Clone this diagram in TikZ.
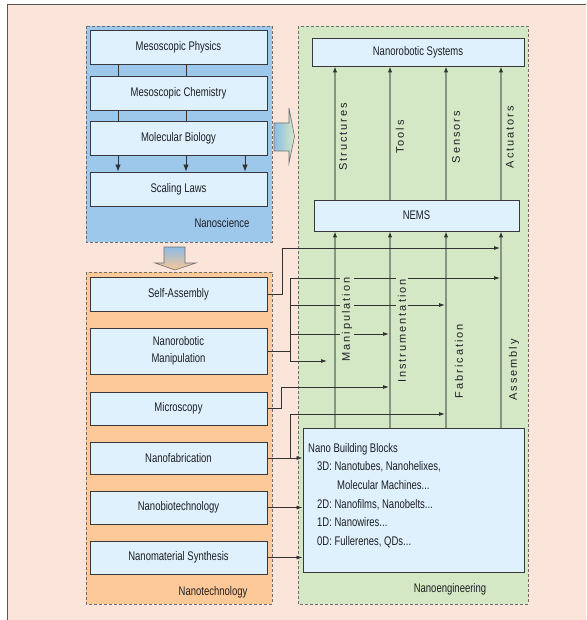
\documentclass[tikz,border=0pt]{standalone}
\usepackage{fontspec}
\setmainfont{Liberation Sans}
\newfontfamily\nf[FakeStretch=0.76]{Liberation Sans}
\newfontfamily\lf[LetterSpace=18]{Liberation Sans}
\usetikzlibrary{arrows.meta,calc}
\definecolor{bgpink}{RGB}{251,228,218}
\definecolor{scifill}{RGB}{157,200,235}
\definecolor{techfill}{RGB}{253,201,152}
\definecolor{engfill}{RGB}{212,232,198}
\definecolor{boxfill}{RGB}{222,241,253}
\definecolor{boxline}{RGB}{55,55,60}
\definecolor{panelline}{RGB}{110,110,110}
\definecolor{connc}{RGB}{50,50,50}
\definecolor{glinec}{RGB}{135,150,130}
\definecolor{framec}{RGB}{85,85,85}
\definecolor{arrblue}{RGB}{140,188,228}
\definecolor{arrgreen}{RGB}{212,232,200}
\definecolor{arrorange}{RGB}{250,198,150}
\definecolor{txt}{RGB}{30,30,35}
\tikzset{
  box/.style={draw=boxline, fill=boxfill, line width=0.9pt, minimum width=177pt, text=txt,
    font=\nf\fontsize{12.5}{17.5}\selectfont, align=center, inner sep=0pt},
  panel/.style={draw=panelline, dash pattern=on 3pt off 2pt, line width=0.8pt},
  conn/.style={draw=connc, line width=0.8pt},
  tip/.style={-{Latex[length=6pt,width=4pt]}},
  gline/.style={draw=glinec, line width=1.6pt, -{Latex[length=6pt,width=4.5pt,color=connc]}},
  vlab/.style={rotate=90, font=\lf\fontsize{11}{13}\selectfont, inner sep=1.5pt, text=txt},
  plab/.style={font=\nf\fontsize{12.5}{14}\selectfont, inner sep=0pt, text=txt},
}
\begin{document}
\begin{tikzpicture}[x=1pt,y=-1pt]
\useasboundingbox (0,0) rectangle (586,620);
% outer frame
\fill[bgpink] (7,4) rectangle (586,620);
\draw[framec, line width=0.9pt] (7,620) -- (7,4) -- (586,4);
% panels
\draw[panel, fill=scifill] (86,26) rectangle (272,242);
\draw[panel, fill=techfill] (86,272) rectangle (272,604);
\draw[panel, fill=engfill] (298,26) rectangle (528,604);
\node[plab] (lsci) at (222,223) {Nanoscience};
\node[plab] (ltech) at (213,592) {Nanotechnology};
\node[plab] (leng) at (450,589) {Nanoengineering};
% block arrows
\shade[left color=arrblue, right color=arrgreen, draw=panelline, line width=0.6pt]
  (274,123) -- (289,123) -- (289,108) -- (294.5,136.5) -- (289,163) -- (289,151) -- (274,151) -- cycle;
\shade[top color=arrblue, bottom color=arrorange, draw=panelline, line width=0.6pt]
  (164,247) -- (185,247) -- (185,263) -- (196,263) -- (175,270) -- (155,263) -- (164,263) -- cycle;
% nanoscience boxes
\node[box, minimum height=34pt] (phys) at (178.5,47) {Mesoscopic Physics};
\node[box, minimum height=34pt] (chem) at (178.5,93) {Mesoscopic Chemistry};
\node[box, minimum height=34pt] (bio) at (178.5,138) {Molecular Biology};
\node[box, minimum height=34pt] (scale) at (178.5,189) {Scaling Laws};
\coordinate (xa) at (118,0);
\coordinate (xb) at (186,0);
\coordinate (xc) at (245,0);
\draw[conn] (phys.south -| xa) -- (chem.north -| xa);
\draw[conn] (phys.south -| xb) -- (chem.north -| xb);
\draw[conn] (chem.south -| xa) -- (bio.north -| xa);
\draw[conn] (chem.south -| xb) -- (bio.north -| xb);
\draw[conn, -{Latex[length=7pt,width=5.5pt]}] (bio.south -| xa) -- (scale.north -| xa);
\draw[conn, -{Latex[length=7pt,width=5.5pt]}] (bio.south -| xb) -- (scale.north -| xb);
\draw[conn, -{Latex[length=7pt,width=5.5pt]}] (bio.south -| xc) -- (scale.north -| xc);
% nanotechnology boxes
\node[box, minimum height=34pt] (self) at (178.5,294) {Self-Assembly};
\node[box, minimum height=46pt] (manip) at (178.5,351) {Nanorobotic\\Manipulation};
\node[box, minimum height=33pt] (micro) at (178.5,408.5) {Microscopy};
\node[box, minimum height=32pt] (fab) at (178.5,458) {Nanofabrication};
\node[box, minimum height=33pt] (biotech) at (178.5,507.5) {Nanobiotechnology};
\node[box, minimum height=33pt] (synth) at (178.5,557.5) {Nanomaterial Synthesis};
% nanoengineering boxes
\node[box, minimum width=212pt, minimum height=28pt] (nrs) at (418,52) {Nanorobotic Systems};
\node[box, minimum width=205pt, minimum height=31pt] (nems) at (416.5,215.5) {NEMS};
\node[box, minimum width=221pt, minimum height=144pt] (nbb) at (413.5,500) {};
\node[font=\nf\fontsize{12.5}{18.6}\selectfont, text=txt, align=left, anchor=north west, inner sep=0pt] (nbbtxt) at (308,443)
  {Nano Building Blocks\\
   \hspace*{9pt}3D: Nanotubes, Nanohelixes,\\
   \hspace*{29pt}Molecular Machines...\\
   \hspace*{9pt}2D: Nanofilms, Nanobelts...\\
   \hspace*{9pt}1D: Nanowires...\\
   \hspace*{9pt}0D: Fullerenes, QDs...};
% vertical grey lines
\coordinate (vA) at (335,0);
\coordinate (vB) at (390,0);
\coordinate (vC) at (446,0);
\coordinate (vD) at (501,0);
\foreach \v in {vA,vB,vC,vD}{
  \draw[gline] (nems.north -| \v) -- (nrs.south -| \v);
  \draw[gline] (nbb.north -| \v) -- (nems.south -| \v);
}
% connectors from nanotechnology
\coordinate (busA) at (282,0);
\coordinate (busB) at (290,0);
\coordinate (busC) at (281,0);
\coordinate (t1) at (500,248);
\coordinate (m0) at (290,278);
\coordinate (m1) at (290,305);
\coordinate (m2) at (290,334);
\coordinate (m3) at (290,361);
\coordinate (t2) at (500,278);
\coordinate (t3) at (445,305);
\coordinate (t4) at (389,334);
\coordinate (t5) at (327,361);
\coordinate (t6) at (389,387);
\coordinate (f0) at (290,414);
\coordinate (t7) at (445,414);
\draw[conn, tip] (self.east) -| (busA |- t1) -- (t1);
\draw[conn] (manip.east) -- (manip.east -| busB);
\draw[conn] (m0) -- (m3);
\draw[conn, tip] (m0) -- (t2);
\draw[conn, tip] (m1) -- (t3);
\draw[conn, tip] (m2) -- (t4);
\draw[conn, tip] (m3) -- (t5);
\draw[conn, tip] (micro.east) -| (busC |- t6) -- (t6);
\draw[conn, tip] (fab.east) -- (nbb.west |- fab.east);
\draw[conn] (fab.east -| busB) -- (f0);
\draw[conn, tip] (f0) -- (t7);
\draw[conn, tip] (biotech.east) -- (nbb.west |- biotech.east);
\draw[conn, tip] (synth.east) -- (nbb.west |- synth.east);
% vertical labels
\node[vlab] (lstruct) at (343,137) {Structures};
\node[vlab] (ltools) at (400,137) {Tools};
\node[vlab] (lsens) at (456,137) {Sensors};
\node[vlab] (lact) at (510,137) {Actuators};
\node[vlab, fill=engfill] (lmanip) at (347,319.5) {Manipulation};
\node[vlab, fill=engfill] (linstr) at (402,331) {Instrumentation};
\node[vlab] (lfab) at (459,361) {Fabrication};
\node[vlab] (lass) at (514,370) {Assembly};
\end{tikzpicture}
\end{document}
